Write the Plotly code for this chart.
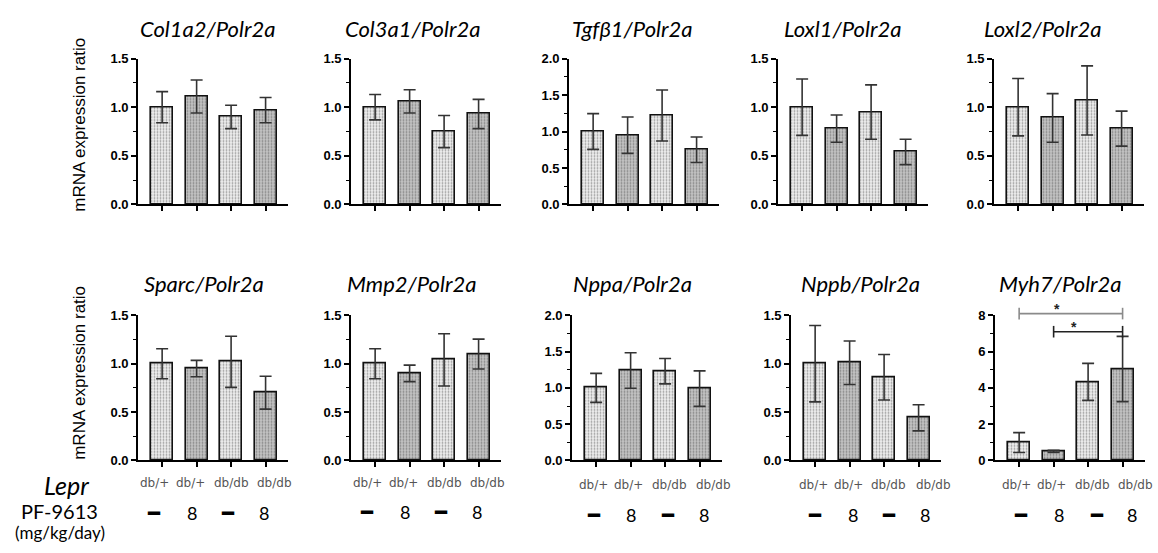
import plotly.graph_objects as go

# ---------------- data ----------------
GROUPS = ["db/+", "db/+", "db/db", "db/db"]
DOSES = ["━", "8", "━", "8"]
GENES = ["Col1a2", "Col3a1", "Tgfβ1", "Loxl1", "Loxl2",
         "Sparc", "Mmp2", "Nppa", "Nppb", "Myh7"]
REF_GENE = "Polr2a"

COL1A2_MEAN = [1.00, 1.11, 0.90, 0.97]
COL1A2_SEM = [0.16, 0.17, 0.12, 0.13]
COL3A1_MEAN = [1.00, 1.06, 0.75, 0.93]
COL3A1_SEM = [0.13, 0.12, 0.165, 0.15]
TGFB1_MEAN = [1.00, 0.95, 1.22, 0.75]
TGFB1_SEM = [0.245, 0.25, 0.35, 0.175]
LOXL1_MEAN = [1.00, 0.78, 0.95, 0.54]
LOXL1_SEM = [0.29, 0.14, 0.28, 0.13]
LOXL2_MEAN = [1.00, 0.89, 1.07, 0.78]
LOXL2_SEM = [0.295, 0.25, 0.355, 0.18]
SPARC_MEAN = [1.00, 0.95, 1.02, 0.70]
SPARC_SEM = [0.155, 0.085, 0.265, 0.17]
MMP2_MEAN = [1.00, 0.90, 1.04, 1.10]
MMP2_SEM = [0.155, 0.085, 0.27, 0.155]
NPPA_MEAN = [1.00, 1.24, 1.23, 0.99]
NPPA_SEM = [0.20, 0.245, 0.175, 0.245]
NPPB_MEAN = [1.00, 1.01, 0.86, 0.44]
NPPB_SEM = [0.395, 0.225, 0.235, 0.135]
MYH7_MEAN = [0.98, 0.50, 4.33, 5.04]
MYH7_SEM = [0.55, 0.06, 1.02, 1.80]

Y_MAX = [1.5, 1.5, 2.0, 1.5, 1.5, 1.5, 1.5, 2.0, 1.5, 8]
Y_DTICK = [0.5, 0.5, 0.5, 0.5, 0.5, 0.5, 0.5, 0.5, 0.5, 2]

# significance brackets for Myh7: (group a, group b, y level, color)
MYH7_SIG = [(0, 3, 8.1, "#8a8a8a"), (1, 3, 7.1, "#222222")]

MEANS = [COL1A2_MEAN, COL3A1_MEAN, TGFB1_MEAN, LOXL1_MEAN, LOXL2_MEAN,
         SPARC_MEAN, MMP2_MEAN, NPPA_MEAN, NPPB_MEAN, MYH7_MEAN]
SEMS = [COL1A2_SEM, COL3A1_SEM, TGFB1_SEM, LOXL1_SEM, LOXL2_SEM,
        SPARC_SEM, MMP2_SEM, NPPA_SEM, NPPB_SEM, MYH7_SEM]

# ---------------- layout constants ----------------
W, H = 1158, 553


def fx(px):
    return px / W


def fy(py):
    return 1 - py / H


LEFT_PX = [138, 351, 569, 778, 994, 138, 351, 572, 791, 995]
PANEL_W = 150
ROW_ZERO = [203, 466]
ROW_TOP = [53, 317]
TITLE_X_PX = [207, 412, 632, 842, 1042, 204, 411, 632, 860, 1060]
TITLE_Y_PX = [22, 22, 22, 22, 22, 284, 284, 284, 284, 284]
X_RANGE = [-0.7, 3.65]
# label placement (in category units) for the two text rows under the bottom panels
GROUP_LABEL_POS = {5: [-0.23, 0.83, 2.0, 3.26], 6: [-0.23, 0.83, 2.0, 3.26],
                   7: [-0.08, 0.95, 2.12, 3.4], 8: [-0.06, 0.97, 2.14, 3.42],
                   9: [-0.09, 0.94, 2.12, 3.38]}
DOSE_LABEL_POS = {5: [-0.24, 0.87, 1.9, 2.96], 6: [-0.24, 0.87, 1.9, 2.96],
                  7: [-0.06, 1.02, 2.08, 3.12], 8: [0.0, 1.09, 2.15, 3.2],
                  9: [0.06, 1.17, 2.25, 3.28]}
GROUP_LABEL_Y = {5: 489, 6: 489, 7: 491, 8: 491, 9: 491}
DOSE_LABEL_Y = {5: 520, 6: 519, 7: 522, 8: 522, 9: 522}

BAR_COLORS = ["#efefef", "#c4c4c4", "#efefef", "#c4c4c4"]
DOT_COLORS = ["#c8c8c8", "#9a9a9a", "#c8c8c8", "#9a9a9a"]

TICK_FONT = dict(family="Liberation Sans", size=13, color="black", weight="bold")
TITLE_FONT = dict(family="Lato", size=22, color="black")


def cat_to_paper(i, pos):
    """Map a category-axis position of panel i to paper x."""
    left = LEFT_PX[i]
    frac = (pos - X_RANGE[0]) / (X_RANGE[1] - X_RANGE[0])
    return fx(left + frac * PANEL_W)


fig = go.Figure()
annotations = []
shapes = []

for i, gene in enumerate(GENES):
    row = i // 5
    sfx = "" if i == 0 else str(i + 1)
    xa, ya = "x" + sfx, "y" + sfx
    fig.add_trace(go.Bar(
        x=list(range(len(GROUPS))), y=MEANS[i],
        xaxis=xa, yaxis=ya, width=0.64,
        marker=dict(color=BAR_COLORS, line=dict(color="#111111", width=1.6),
                    pattern=dict(shape=".", fgcolor=DOT_COLORS, size=3,
                                 solidity=0.3, fillmode="overlay")),
        error_y=dict(type="data", array=SEMS[i], visible=True,
                     color="#333333", thickness=1.6, width=6),
        showlegend=False, hoverinfo="skip",
    ))
    left = LEFT_PX[i]
    fig.layout["xaxis" + sfx] = dict(
        domain=[fx(left), fx(left + PANEL_W)], range=X_RANGE, anchor=ya,
        showline=True, linecolor="black", linewidth=1.6,
        ticks="outside", ticklen=5, tickwidth=1.5, tickcolor="black",
        tickvals=[0, 1, 2, 3], showticklabels=False,
        showgrid=False, zeroline=False, fixedrange=True,
    )
    ymax = Y_MAX[i]
    dt = Y_DTICK[i]
    fig.layout["yaxis" + sfx] = dict(
        domain=[fy(ROW_ZERO[row]), fy(ROW_TOP[row])], range=[0, ymax], anchor=xa,
        showline=True, linecolor="black", linewidth=1.6,
        ticks="outside", ticklen=5, tickwidth=1.5, tickcolor="black",
        tick0=0, dtick=dt, tickformat=".1f" if dt < 1 else "d",
        tickfont=TICK_FONT,
        minor=dict(ticks="outside", ticklen=3, tickwidth=1, tickcolor="black",
                   dtick=dt / 2, tick0=0),
        showgrid=False, zeroline=False, fixedrange=True,
    )
    annotations.append(dict(
        text=f"<i>{gene}/{REF_GENE}</i>", x=fx(TITLE_X_PX[i]), y=fy(TITLE_Y_PX[i]),
        xref="paper", yref="paper", showarrow=False, font=TITLE_FONT,
        xanchor="center", yanchor="middle"))
    if row == 1:
        for g, (grp, dose) in enumerate(zip(GROUPS, DOSES)):
            annotations.append(dict(
                text=grp, x=cat_to_paper(i, GROUP_LABEL_POS[i][g]), y=fy(GROUP_LABEL_Y[i]),
                xref="paper", yref="paper", showarrow=False,
                font=dict(family="DejaVu Sans", size=12, color="#555555"),
                xanchor="center", yanchor="middle"))
            annotations.append(dict(
                text=dose, x=cat_to_paper(i, DOSE_LABEL_POS[i][g]), y=fy(DOSE_LABEL_Y[i]),
                xref="paper", yref="paper", showarrow=False,
                font=dict(family="DejaVu Sans" if dose == "━" else "Lato",
                          size=18 if dose != "━" else 20, color="black"),
                xanchor="center", yanchor="middle"))

# significance brackets on Myh7 panel (y given as fraction of the y10 domain)
ymax10 = Y_MAX[9]
for a, b, lvl, col in MYH7_SIG:
    shapes.append(dict(type="line", xref="x10", yref="y10 domain", x0=a, x1=b,
                       y0=lvl / ymax10, y1=lvl / ymax10,
                       line=dict(color=col, width=1.6)))
    for e in (a, b):
        shapes.append(dict(type="line", xref="x10", yref="y10 domain", x0=e, x1=e,
                           y0=(lvl - 0.32) / ymax10, y1=(lvl + 0.32) / ymax10,
                           line=dict(color=col, width=1.6)))
    annotations.append(dict(text="<b>*</b>", x=cat_to_paper(9, (a + b) / 2 - 0.25),
                            y=lvl / ymax10, xref="paper", yref="y10 domain",
                            showarrow=False, yanchor="bottom", yshift=-5,
                            font=dict(family="Liberation Sans", size=14, color="#222222")))

# y-axis titles
for ypx in (121, 376):
    annotations.append(dict(
        text="mRNA expression ratio", x=fx(80), y=fy(ypx), xref="paper", yref="paper",
        showarrow=False, textangle=-90, xanchor="center", yanchor="middle",
        font=dict(family="Liberation Sans", size=17, color="black")))

# row labels
annotations.append(dict(text="<i>Lepr</i>", x=fx(66), y=fy(491), xref="paper", yref="paper",
                        showarrow=False, xanchor="center", yanchor="middle",
                        font=dict(family="Lato", size=25, color="black")))
annotations.append(dict(text="PF-9613", x=fx(60), y=fy(518), xref="paper", yref="paper",
                        showarrow=False, xanchor="center", yanchor="middle",
                        font=dict(family="Lato", size=20, color="black")))
annotations.append(dict(text="(mg/kg/day)", x=fx(60), y=fy(540), xref="paper", yref="paper",
                        showarrow=False, xanchor="center", yanchor="middle",
                        font=dict(family="Lato", size=17, color="black")))

fig.update_layout(
    width=W, height=H, margin=dict(l=0, r=0, t=0, b=0),
    plot_bgcolor="white", paper_bgcolor="white",
    annotations=annotations, shapes=shapes, showlegend=False, bargap=0,
)

fig.write_html("out.html", config={"displayModeBar": False},
               post_script="document.body.style.margin='0';document.body.style.overflow='hidden';")
